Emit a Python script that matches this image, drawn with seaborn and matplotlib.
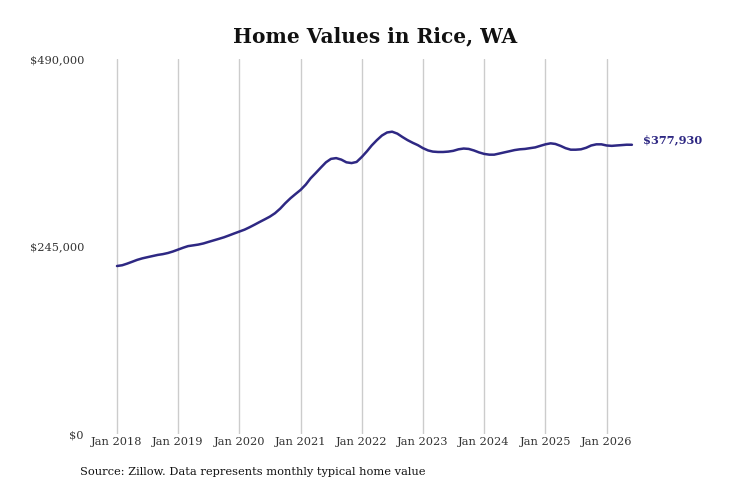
import numpy as np
import pandas as pd
import matplotlib
matplotlib.use("Agg")
import matplotlib.pyplot as plt
import seaborn as sns

# ---- data ----
start_month = "2018-01-01"
values_k = [
    # 2018
    219.5, 220.5, 222.5, 225, 227.5, 229.5, 231, 232.5, 234, 235, 236.5, 238.5,
    # 2019
    241, 243.5, 245.5, 246.5, 247.5, 249, 251, 253, 255, 257, 259.5, 262,
    # 2020
    264.5, 267, 270, 273.5, 277, 280.5, 284, 288.5, 294.5, 301.5, 308, 313.5,
    # 2021
    319, 326, 334, 341, 348, 355, 359.5, 360.5, 358.5, 355, 354, 355.5,
    # 2022
    362, 369.5, 377, 384, 390, 394, 395, 392.5, 388, 384, 380.5, 377.5,
    # 2023
    373.5, 370.5, 369, 368.5, 368.5, 369, 370, 372, 373, 372.5, 370.5, 368,
    # 2024
    366, 365, 365, 366.5, 368, 369.5, 371, 372, 372.5, 373.5, 374.5, 376.5,
    # 2025
    378.5, 379.8, 379, 376.5, 373.5, 371.5, 371.5, 372, 374, 377, 378.5, 378.5,
    # 2026
    377, 376.5, 377, 377.5, 378, 377.93,
]
y_ticks = [0, 245000, 490000]
y_tick_labels = ["$0", "$245,000", "$490,000"]
x_tick_years = list(range(2018, 2027))
title = "Home Values in Rice, WA"
source = "Source: Zillow. Data represents monthly typical home value"
end_label = "$377,930"

dates = pd.date_range(start_month, periods=len(values_k), freq="MS")
df = pd.DataFrame({"date": dates, "value": np.array(values_k) * 1000})

sns.set_theme(style="white")
plt.rcParams["font.family"] = ["DejaVu Serif"]

W, H = 731, 487
fig = plt.figure(figsize=(W / 100, H / 100), dpi=100)
ax_left, ax_right = 95, 700
ax_top, ax_bottom = 59, 434
ax = fig.add_axes([ax_left / W, (H - ax_bottom) / H, (ax_right - ax_left) / W, (ax_bottom - ax_top) / H])

line_color = "#2e2883"
sns.lineplot(data=df, x="date", y="value", ax=ax, color=line_color, linewidth=1.8)

px_per_day = 61.2 / 365.25
t0 = pd.Timestamp("2018-01-01")
ax.set_xlim(t0 - pd.Timedelta(days=(117 - ax_left) / px_per_day),
            t0 + pd.Timedelta(days=(ax_right - 117) / px_per_day))
ax.set_ylim(0, 490000)

ax.set_xticks([pd.Timestamp(f"{y}-01-01") for y in x_tick_years])
ax.set_xticklabels([f"Jan {y}" for y in x_tick_years], fontsize=8.2, color="#333333")
ax.set_yticks(y_ticks)
ax.set_yticklabels(y_tick_labels, fontsize=8.2, color="#333333")
ax.tick_params(axis="both", length=0)
ax.tick_params(axis="x", pad=2)
ax.tick_params(axis="y", pad=8)

ax.grid(axis="x", color="#cccccc", linewidth=1)
ax.grid(axis="y", visible=False)
for s in ax.spines.values():
    s.set_visible(False)
ax.set_xlabel("")
ax.set_ylabel("")

ax.annotate(end_label, xy=(df["date"].iloc[-1], df["value"].iloc[-1]),
            xytext=(8, 3.5), textcoords="offset points", ha="left", va="center",
            fontsize=8.2, fontweight="bold", color=line_color)

fig.text(375 / W, 1 - 36 / H, title, ha="center", va="center", fontsize=14.5, fontweight="bold", color="#111111")
fig.text(80 / W, 1 - 472 / H, source, ha="left", va="center", fontsize=8.2, color="#111111")

fig.savefig("out.png", dpi=100)
